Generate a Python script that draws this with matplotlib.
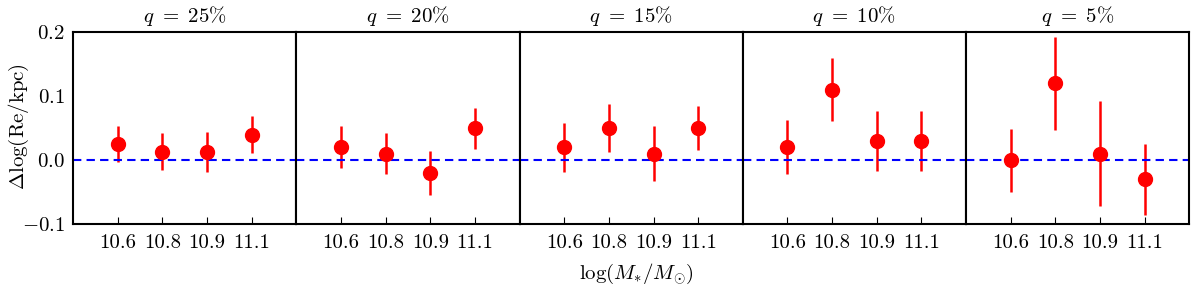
import matplotlib
matplotlib.use("Agg")
import matplotlib.pyplot as plt
import numpy as np

plt.rcParams['font.family'] = 'serif'
plt.rcParams['font.serif'] = ['cmr10']
plt.rcParams['mathtext.fontset'] = 'cm'
plt.rcParams['axes.formatter.use_mathtext'] = True

# panels (percentile cut q) and mass bins
q_labels = ["25", "20", "15", "10", "5"]
mass_bins = ["10.6", "10.8", "10.9", "11.1"]

# delta log(Re/kpc) per panel, with errors
delta_re = [
    [0.025, 0.013, 0.013, 0.040],
    [0.020, 0.010, -0.020, 0.050],
    [0.020, 0.050, 0.010, 0.050],
    [0.020, 0.110, 0.030, 0.030],
    [0.000, 0.120, 0.010, -0.030],
]
delta_err = [
    [0.028, 0.029, 0.031, 0.029],
    [0.033, 0.032, 0.035, 0.032],
    [0.038, 0.038, 0.043, 0.034],
    [0.042, 0.049, 0.047, 0.047],
    [0.049, 0.073, 0.082, 0.055],
]

fig, axes = plt.subplots(1, 5, figsize=(12, 2.87), dpi=100, sharey=True)
fig.subplots_adjust(left=0.061, right=0.991, top=0.888, bottom=0.219, wspace=0)

xpos = np.arange(len(mass_bins))
for i, ax in enumerate(axes):
    ax.errorbar(xpos, delta_re[i], yerr=delta_err[i], fmt='o', color='red',
                ms=10, elinewidth=1.8, capsize=0)
    ax.axhline(0, color='blue', ls='--', lw=1.5, dashes=(4, 2.5))
    ax.set_xlim(-1, 4)
    ax.set_ylim(-0.1, 0.2)
    ax.set_xticks(xpos)
    ax.set_xticklabels(mass_bins)
    ax.set_yticks([-0.1, 0.0, 0.1, 0.2])
    ax.tick_params(axis='x', direction='in', length=5, labelsize=15, pad=7)
    ax.tick_params(axis='y', length=0, labelsize=15, pad=6)
    ax.set_title(r"$q\ =\ %s\%%$" % q_labels[i], fontsize=15, pad=7)
    for sp in ax.spines.values():
        sp.set_linewidth(1.5)

axes[0].yaxis.set_major_formatter(
    matplotlib.ticker.FuncFormatter(lambda v, p: r"$%.1f$" % v))
fig.text(0.006, 0.56, r"$\Delta\log(\mathrm{Re/kpc})$", rotation=90,
         ha='left', va='center', fontsize=15)
fig.text(0.53, 0.03, r"$\log(M_{*}/M_{\odot})$", ha='center', fontsize=15)

plt.savefig("out.png")
